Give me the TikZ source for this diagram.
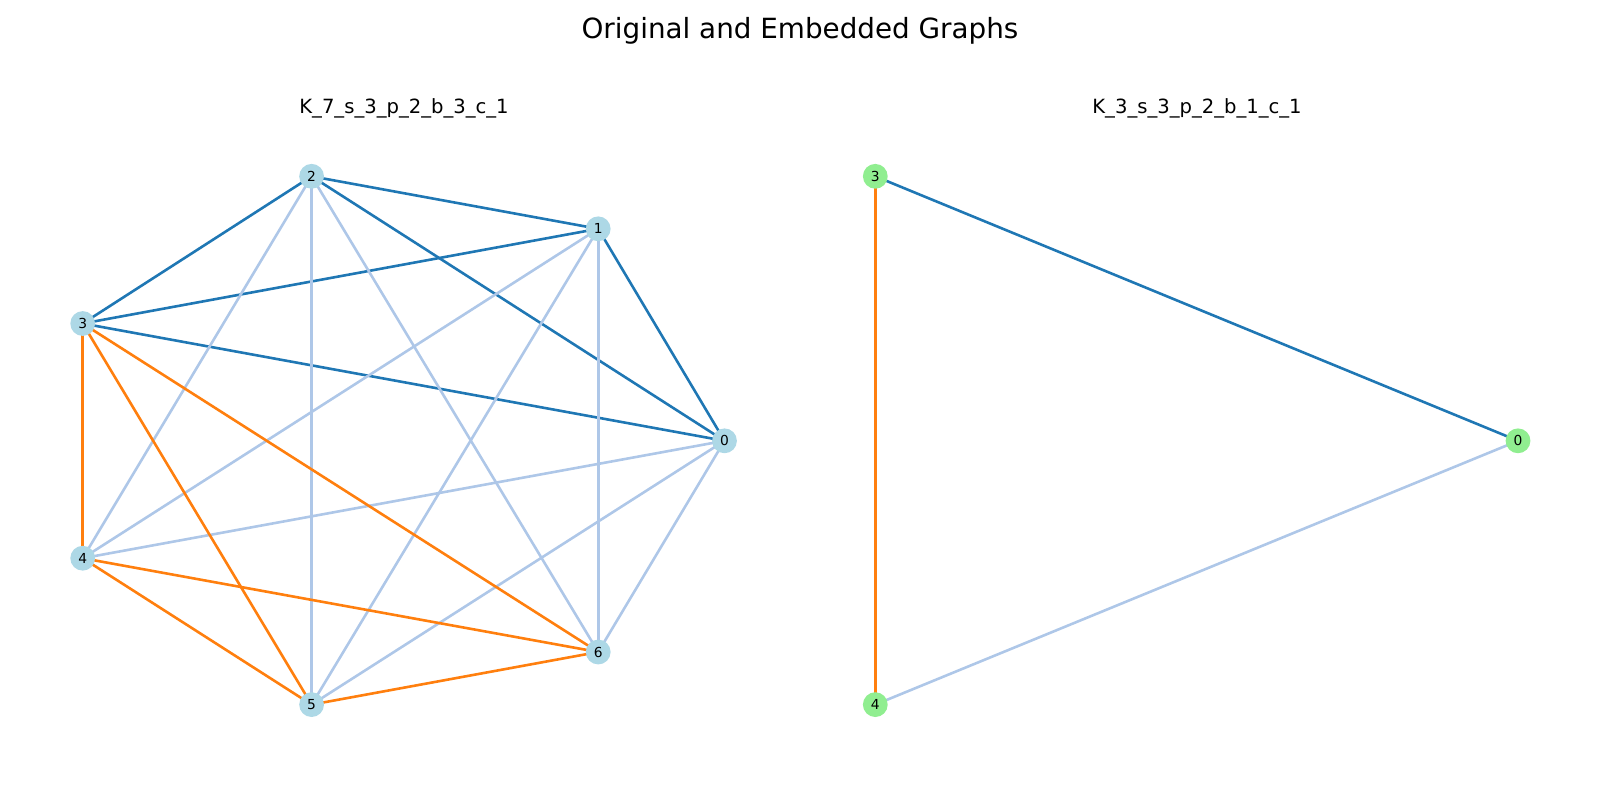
\documentclass[tikz,border=0pt]{standalone}
\usepackage{fontspec}
\setmainfont{DejaVu Sans}
\definecolor{dblue}{HTML}{1F77B4}
\definecolor{lblue}{HTML}{AEC7E8}
\definecolor{orng}{HTML}{FF7F0E}
\definecolor{nblue}{HTML}{ADD8E6}
\definecolor{ngreen}{HTML}{90EE90}
\begin{document}
\begin{tikzpicture}[x=0.5pt,y=-0.5pt,
  vtx/.style={circle,inner sep=0pt,minimum size=12.4pt,font=\fontsize{6.9}{7.5}\selectfont},
  bnode/.style={vtx,fill=nblue},
  gnode/.style={vtx,fill=ngreen},
  edk/.style={draw=dblue,line width=1.3pt},
  elt/.style={draw=lblue,line width=1.3pt},
  eor/.style={draw=orng,line width=1.3pt}]
\useasboundingbox (0,0) rectangle (1600,800);
\node (title) at (800,31) {\fontsize{13.9}{16}\selectfont Original and Embedded Graphs};
\node (t1) at (404,108) {\fontsize{9.8}{12}\selectfont K\_7\_s\_3\_p\_2\_b\_3\_c\_1};
\node (t2) at (1197,108) {\fontsize{9.8}{12}\selectfont K\_3\_s\_3\_p\_2\_b\_1\_c\_1};
% left graph nodes
\coordinate (p0) at (724.5,440.8);
\coordinate (p1) at (598.2,228.8);
\coordinate (p2) at (311.6,176.3);
\coordinate (p3) at (82.7,323.5);
\coordinate (p4) at (82.7,558.2);
\coordinate (p5) at (311.6,704.6);
\coordinate (p6) at (598.2,652.0);
% right graph
\coordinate (q3) at (875.3,176.3);
\coordinate (q0) at (1518.0,440.8);
\coordinate (q4) at (875.3,704.6);
% edges left
\foreach \a/\b in {2/1,2/3,2/0,1/3,1/0,3/0} \draw[edk] (p\a) -- (p\b);
\foreach \a/\b in {2/4,2/5,2/6,1/4,1/5,1/6,0/4,0/5,0/6} \draw[elt] (p\a) -- (p\b);
\foreach \a/\b in {3/4,3/5,3/6,4/5,4/6,5/6} \draw[eor] (p\a) -- (p\b);
% edges right
\draw[edk] (q3) -- (q0);
\draw[eor] (q3) -- (q4);
\draw[elt] (q4) -- (q0);
% nodes
\foreach \i in {0,...,6} \node[bnode] (n\i) at (p\i) {\i};
\foreach \i in {3,0,4} \node[gnode] (m\i) at (q\i) {\i};
\end{tikzpicture}
\end{document}
